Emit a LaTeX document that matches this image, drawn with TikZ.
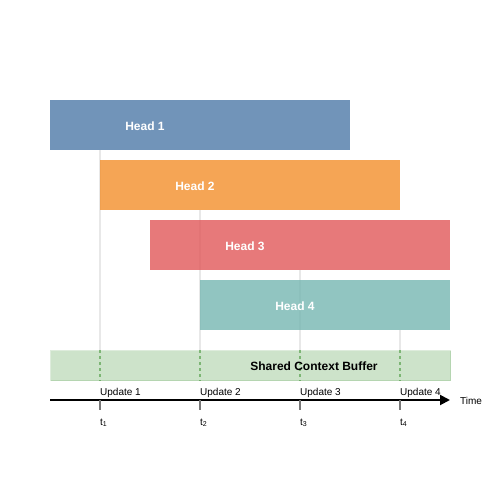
\documentclass[tikz,border=0pt]{standalone}
\usepackage{fontspec}
\setmainfont{Liberation Sans}
\usetikzlibrary{arrows.meta}
\definecolor{cblue}{HTML}{4E79A7}
\definecolor{corange}{HTML}{F28E2B}
\definecolor{cred}{HTML}{E15759}
\definecolor{cteal}{HTML}{76B7B2}
\definecolor{cgreen}{HTML}{59A14F}
\definecolor{gridgray}{HTML}{E8E8E8}
\definecolor{tickgray}{HTML}{777777}
\tikzset{
  headbar/.style={rectangle, anchor=north west, minimum width=300pt, minimum height=50pt, inner sep=0pt, draw=none},
  headlabel/.style={text=white, font=\fontsize{12}{14}\selectfont\bfseries, inner sep=0pt},
  gridline/.style={gridgray, line width=1.5pt},
  bufdash/.style={cgreen, draw opacity=0.7, line width=1.5pt, dash pattern=on 3pt off 3pt},
  tickline/.style={tickgray, line width=2pt},
  smalltext/.style={font=\fontsize{10}{12}\selectfont, inner sep=0pt, anchor=base west},
}
\begin{document}
\begin{tikzpicture}[x=1pt,y=-1pt]
\useasboundingbox (0,0) rectangle (500,500);
% time coordinates
\coordinate (a0) at (50,400);
\coordinate (a1) at (450,400);
\coordinate (t1) at (100,400);
\coordinate (t2) at (200,400);
\coordinate (t3) at (300,400);
\coordinate (t4) at (400,400);
% bar geometry
\node[headbar] (h1) at (50,100) {};
\node[headbar] (h2) at (100,160) {};
\node[headbar] (h3) at (150,220) {};
\node[headbar, minimum width=250pt] (h4) at (200,280) {};
\node[rectangle, anchor=north west, minimum width=400pt, minimum height=30pt, inner sep=0pt,
      fill=cgreen, fill opacity=0.3, draw=cgreen, draw opacity=0.2, line width=1pt] (buf) at (50,350) {};
% grid lines
\draw[gridline] (h1.south -| t1) -- (buf.north -| t1);
\draw[gridline] (h2.south -| t2) -- (buf.north -| t2);
\draw[gridline] (h3.south -| t3) -- (buf.north -| t3);
\draw[gridline] (h4.south -| t4) -- (buf.north -| t4);
% bars filled
\fill[cblue, fill opacity=0.8] (h1.north west) rectangle (h1.south east);
\fill[corange, fill opacity=0.8] (h2.north west) rectangle (h2.south east);
\fill[cred, fill opacity=0.8] (h3.north west) rectangle (h3.south east);
\fill[cteal, fill opacity=0.8] (h4.north west) rectangle (h4.south east);
\node[headlabel] (l1) at (145,126) {Head 1};
\node[headlabel] (l2) at (195,186) {Head 2};
\node[headlabel] (l3) at (245,246) {Head 3};
\node[headlabel] (l4) at (295,306) {Head 4};
% buffer dashed lines
\foreach \t in {t1,t2,t3,t4}{
  \draw[bufdash] (buf.north -| \t) -- (buf.south -| \t);
}
\node[font=\fontsize{12}{14}\selectfont\bfseries, inner sep=0pt] (buflabel) at (314,366) {Shared Context Buffer};
% axis
\draw[black, line width=2pt, -{Triangle[length=10pt,width=10pt]}] (a0) -- (a1);
\node[smalltext, anchor=west] (timelabel) at (460,401) {Time};
\foreach \t/\n in {t1/1,t2/2,t3/3,t4/4}{
  \draw[tickline] (\t) -- ++(0,10);
  \node[smalltext] (u\n) at ([yshift=5pt]\t) {Update \n};
  \node[smalltext] (s\n) at ([yshift=-25pt]\t) {t\textsubscript{\n}};
}
\end{tikzpicture}
\end{document}
